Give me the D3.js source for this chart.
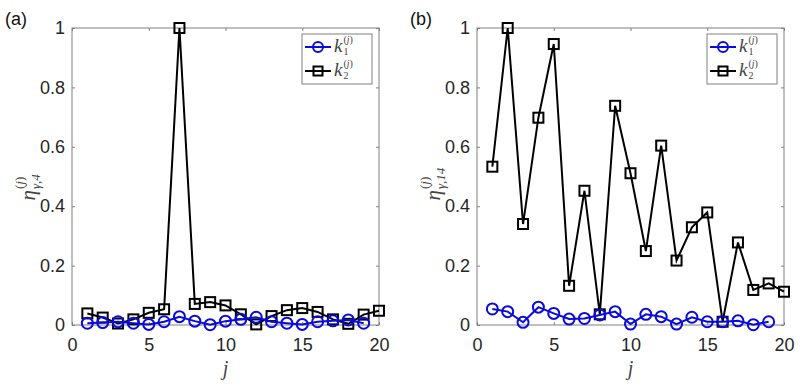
<!DOCTYPE html>
<html><head><meta charset="utf-8">
<script src="https://cdn.jsdelivr.net/npm/d3@7"></script>
<style>
html,body{margin:0;padding:0;background:#fff;}
svg{display:block;}
</style></head>
<body>
<svg id="chart" width="809" height="388"></svg>
<script>
// ---------- data ----------
const jA_k2 = d3.range(1, 21);
const jA_k1 = d3.range(1, 20);
const panelA_k1 = [0.006,0.008,0.011,0.006,0.002,0.011,0.028,0.013,0.001,0.013,0.019,0.026,0.011,0.006,0.002,0.011,0.014,0.017,0.006];
const panelA_k2 = [0.039,0.025,0.005,0.019,0.041,0.053,1.0,0.071,0.077,0.066,0.036,0.002,0.030,0.050,0.057,0.044,0.019,0.004,0.035,0.048];
const panelB_k1 = [0.054,0.045,0.009,0.060,0.039,0.020,0.022,0.034,0.045,0.003,0.036,0.028,0.003,0.026,0.011,0.011,0.014,0.001,0.011];
const panelB_k2 = [0.533,1.0,0.340,0.698,0.946,0.132,0.452,0.036,0.738,0.511,0.249,0.604,0.217,0.329,0.379,0.011,0.278,0.118,0.140,0.112];
const xTicks = [0,5,10,15,20];
const yTicks = [0,0.2,0.4,0.6,0.8,1];
const yTickLabels = ["0","0.2","0.4","0.6","0.8","1"];
const panelLabels = ["(a)","(b)"];
const yLabelSubs = ["γ,4","γ,14"];

const svg = d3.select("#chart");
const AX = "#808080", TXT = "#262626", BLUE = "#0a0adc", BLACK = "#000";

function drawPanel(opts){
  const {x0, x1, k1, k2, plabel, ysub} = opts;
  const y0 = 325, y1 = 28;
  const x = d3.scaleLinear().domain([0,20]).range([x0,x1]);
  const y = d3.scaleLinear().domain([0,1]).range([y0,y1]);
  const g = svg.append("g");
  g.append("rect").attr("x",x0).attr("y",y1).attr("width",x1-x0).attr("height",y0-y1)
    .attr("fill","none").attr("stroke",AX).attr("stroke-width",1);
  const tl = 3;
  const xb = g.append("g").attr("transform",`translate(0,${y0})`)
    .call(d3.axisBottom(x).tickValues(xTicks).tickSizeInner(-tl).tickSizeOuter(0).tickPadding(13));
  const xt = g.append("g").attr("transform",`translate(0,${y1})`)
    .call(d3.axisTop(x).tickValues(xTicks).tickSizeInner(-tl).tickSizeOuter(0).tickFormat(""));
  const yl = g.append("g").attr("transform",`translate(${x0},0)`)
    .call(d3.axisLeft(y).tickValues(yTicks).tickSizeInner(-tl).tickSizeOuter(0).tickPadding(7)
      .tickFormat((d,i)=>yTickLabels[i]));
  const yr = g.append("g").attr("transform",`translate(${x1},0)`)
    .call(d3.axisRight(y).tickValues(yTicks).tickSizeInner(-tl).tickSizeOuter(0).tickFormat(""));
  [xb,xt,yl,yr].forEach(a=>{
    a.select(".domain").remove();
    a.selectAll("line").attr("stroke",AX);
    a.selectAll("text").attr("fill",TXT).style("font-family","'Liberation Sans',Arial,sans-serif").style("font-size","18px");
  });
  const line = d3.line().x(d=>x(d[0])).y(d=>y(d[1]));
  const d1 = k1.map((v,i)=>[jA_k1[i],v]);
  const d2 = k2.map((v,i)=>[jA_k2[i],v]);
  g.append("path").datum(d2).attr("d",line).attr("fill","none").attr("stroke",BLACK).attr("stroke-width",2);
  g.selectAll(".sq").data(d2).enter().append("rect")
    .attr("x",d=>x(d[0])-5).attr("y",d=>y(d[1])-5).attr("width",10).attr("height",10)
    .attr("fill","none").attr("stroke",BLACK).attr("stroke-width",2);
  g.append("path").datum(d1).attr("d",line).attr("fill","none").attr("stroke",BLUE).attr("stroke-width",2);
  g.selectAll(".ci").data(d1).enter().append("circle")
    .attr("cx",d=>x(d[0])).attr("cy",d=>y(d[1])).attr("r",5.5)
    .attr("fill","none").attr("stroke",BLUE).attr("stroke-width",2);

  // legend
  const lx = x1-77, ly = 34, lw = 70, lh = 50;
  const lg = g.append("g");
  lg.append("rect").attr("x",lx).attr("y",ly).attr("width",lw).attr("height",lh)
    .attr("fill","#fff").attr("stroke",AX).attr("stroke-width",1);
  const rows = [{c:BLUE,m:"o",s:"1",yy:ly+13},{c:BLACK,m:"s",s:"2",yy:ly+37}];
  rows.forEach(r=>{
    lg.append("line").attr("x1",lx+3).attr("x2",lx+29).attr("y1",r.yy).attr("y2",r.yy)
      .attr("stroke",r.c).attr("stroke-width",2);
    if(r.m==="o") lg.append("circle").attr("cx",lx+16).attr("cy",r.yy).attr("r",5)
      .attr("fill","none").attr("stroke",r.c).attr("stroke-width",2);
    else lg.append("rect").attr("x",lx+11.5).attr("y",r.yy-4.5).attr("width",9).attr("height",9)
      .attr("fill","none").attr("stroke",r.c).attr("stroke-width",2);
    const tx = lx+32;
    const t = lg.append("text").attr("x",tx).attr("y",r.yy+5).text("k")
      .attr("fill","#444").style("font-family","'Liberation Serif','DejaVu Serif',serif")
      .style("font-style","italic").style("font-size","19px");
    const w = t.node().getComputedTextLength();
    lg.append("text").attr("x",tx+w+1).attr("y",r.yy+8).text(r.s)
      .attr("fill","#444").style("font-family","'Liberation Serif',serif").style("font-size","10px");
    const sup = lg.append("text").attr("x",tx+w+1).attr("y",r.yy-4.5);
    sup.attr("fill","#444").style("font-family","'Liberation Serif',serif").style("font-size","10px");
    sup.append("tspan").text("(");
    sup.append("tspan").text("j").style("font-style","italic");
    sup.append("tspan").text(")");
  });

  g.append("text").attr("x",(x0+x1)/2).attr("y",375).attr("text-anchor","middle").text("j")
    .attr("fill","#444").style("font-family","'Liberation Serif',serif").style("font-style","italic").style("font-size","20px");
  const yg = g.append("g").attr("transform",`translate(${x0-37},${(y0+y1)/2 + 24}) rotate(-90)`);
  const eta = yg.append("text").attr("x",0).attr("y",0).text("η")
    .attr("fill","#444").style("font-family","'Liberation Serif',serif").style("font-style","italic").style("font-size","21px");
  const ew = eta.node().getComputedTextLength();
  yg.append("text").attr("x",ew+1).attr("y",5).text(ysub)
    .attr("fill","#444").style("font-family","'Liberation Serif',serif").style("font-style","italic").style("font-size","13px");
  const ys = yg.append("text").attr("x",ew+1).attr("y",-11)
    .attr("fill","#444").style("font-family","'Liberation Serif',serif").style("font-size","13px");
  ys.append("tspan").text("(");
  ys.append("tspan").text("j").style("font-style","italic");
  ys.append("tspan").text(")");
  svg.append("text").attr("x",x0-67).attr("y",25).text(plabel)
    .attr("fill","#111").style("font-family","'Liberation Sans',Arial,sans-serif").style("font-size","18px");
}

drawPanel({x0:72, x1:379, k1:panelA_k1, k2:panelA_k2, plabel:panelLabels[0], ysub:yLabelSubs[0]});
drawPanel({x0:477, x1:784, k1:panelB_k1, k2:panelB_k2, plabel:panelLabels[1], ysub:yLabelSubs[1]});
</script>
</body></html>
